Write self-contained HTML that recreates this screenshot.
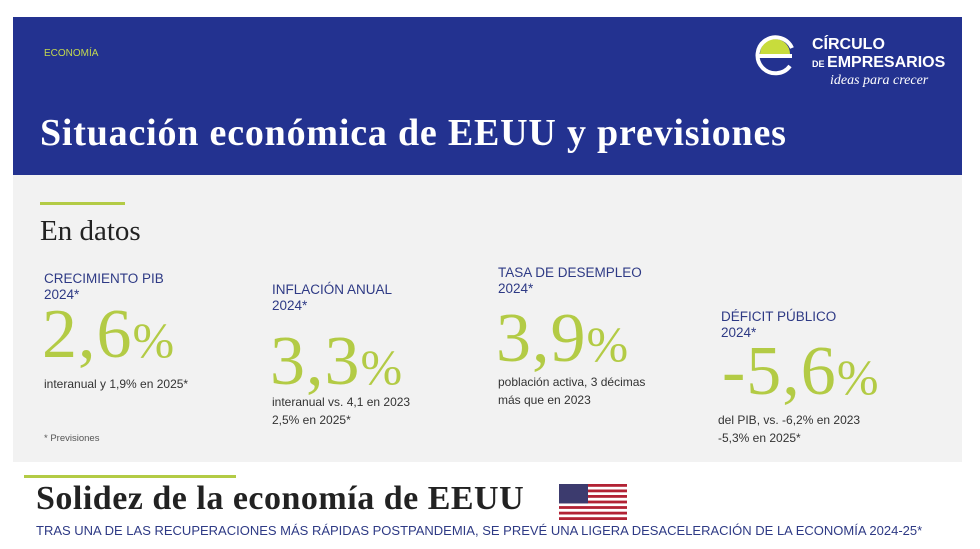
<!DOCTYPE html>
<html><head><meta charset="utf-8"><style>
body{margin:0;width:980px;height:549px;background:#fff;position:relative;overflow:hidden;font-family:"Liberation Sans",sans-serif}
.a{position:absolute;white-space:nowrap}
.lab{color:#2e3a85;font-size:13.5px;line-height:16px}
.num{color:#b3cb45;font-family:"Liberation Serif",serif;font-size:70px;line-height:68px;letter-spacing:1px}
.num span{font-size:50px}
.txt{color:#333;font-size:12px;line-height:18px}
</style></head><body>
<div class="a" style="left:13px;top:17px;width:949px;height:158px;background:#233290"></div>
<div class="a" style="left:13px;top:175px;width:949px;height:287px;background:#f2f2f2"></div>
<div class="a" style="left:44px;top:48px;color:#c3d94e;font-size:10px">ECONOMÍA</div>
<div class="a" style="left:40px;top:111px;color:#fff;font-family:'Liberation Serif',serif;font-weight:bold;font-size:38px;letter-spacing:0.8px">Situación económica de EEUU y previsiones</div>
<svg class="a" style="left:752px;top:32px" width="46" height="46" viewBox="0 0 46 46"><path d="M8 22 A15 15 0 0 1 38 22 Z" fill="#c8dc3c"/><path d="M40 24 H6 M38 34 A18 18 0 1 1 40 16" fill="none" stroke="#fff" stroke-width="4"/></svg>
<div class="a" style="left:812px;top:37px;color:#fff;font-size:16px;font-weight:bold;line-height:16px">CÍRCULO</div>
<div class="a" style="left:812px;top:55px;color:#fff;font-size:16px;font-weight:bold;line-height:16px"><span style="font-size:9px">DE </span>EMPRESARIOS</div>
<div class="a" style="left:830px;top:73px;color:#fff;font-family:'Liberation Serif',serif;font-style:italic;font-size:14px">ideas para crecer</div>
<div class="a" style="left:40px;top:202px;width:85px;height:3px;background:#b3cb45"></div>
<div class="a" style="left:40px;top:215px;color:#222;font-family:'Liberation Serif',serif;font-size:29px">En datos</div>

<div class="a lab" style="left:44px;top:271px">CRECIMIENTO PIB<br>2024*</div>
<div class="a num" style="left:42px;top:301px">2,6<span>%</span></div>
<div class="a txt" style="left:44px;top:375px">interanual y 1,9% en 2025*</div>
<div class="a" style="left:44px;top:433px;color:#555;font-size:9.5px">* Previsiones</div>

<div class="a lab" style="left:272px;top:282px">INFLACIÓN ANUAL<br>2024*</div>
<div class="a num" style="left:270px;top:328px">3,3<span>%</span></div>
<div class="a txt" style="left:272px;top:393px">interanual vs. 4,1 en 2023<br>2,5% en 2025*</div>

<div class="a lab" style="left:498px;top:265px">TASA DE DESEMPLEO<br>2024*</div>
<div class="a num" style="left:496px;top:305px">3,9<span>%</span></div>
<div class="a txt" style="left:498px;top:373px">población activa, 3 décimas<br>más que en 2023</div>

<div class="a lab" style="left:721px;top:309px">DÉFICIT PÚBLICO<br>2024*</div>
<div class="a num" style="left:722px;top:338px">-5,6<span>%</span></div>
<div class="a txt" style="left:718px;top:411px">del PIB, vs. -6,2% en 2023<br>-5,3% en 2025*</div>

<div class="a" style="left:24px;top:475px;width:212px;height:3px;background:#b3cb45"></div>
<div class="a" style="left:36px;top:480px;color:#222;font-family:'Liberation Serif',serif;font-weight:bold;font-size:34px;letter-spacing:0.5px">Solidez de la economía de EEUU</div>
<svg class="a" style="left:559px;top:484px" width="68" height="36" viewBox="0 0 68 36">
<rect width="68" height="36" fill="#fff"/>
<g fill="#b22234"><rect y="0" width="68" height="2.8"/><rect y="5.5" width="68" height="2.8"/><rect y="11" width="68" height="2.8"/><rect y="16.6" width="68" height="2.8"/><rect y="22.1" width="68" height="2.8"/><rect y="27.7" width="68" height="2.8"/><rect y="33.2" width="68" height="2.8"/></g>
<rect width="29" height="19.4" fill="#3c3b6e"/></svg>
<div class="a" style="left:36px;top:523px;color:#2e3a85;font-size:13px">TRAS UNA DE LAS RECUPERACIONES MÁS RÁPIDAS POSTPANDEMIA, SE PREVÉ UNA LIGERA DESACELERACIÓN DE LA ECONOMÍA 2024-25*</div>
</body></html>
